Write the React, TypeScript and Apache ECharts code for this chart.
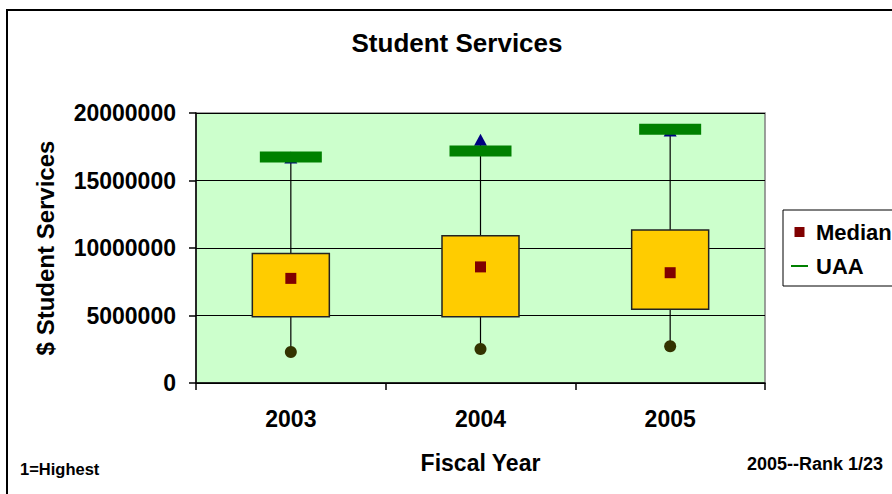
import React, { useEffect, useRef } from "react";
import * as echarts from "echarts";

const years = ["2003", "2004", "2005"];
const q1Values = [4910000, 4910000, 5460000];
const q3Values = [9600000, 10900000, 11330000];
const medianValues = [7750000, 8600000, 8170000];
const minValues = [2300000, 2520000, 2720000];
const maxValues = [16700000, 18020000, 18700000];
const uaaValues = [16740000, 17190000, 18790000];
const yTicks = { min: 0, max: 20000000, interval: 5000000 };

const FONT = "'Liberation Sans', Arial, sans-serif";

export default function App() {
  const ref = useRef<HTMLDivElement>(null);
  useEffect(() => {
    if (!ref.current) return;
    const chart = echarts.init(ref.current, null, { renderer: "svg" });
    const boxData = years.map((_, i) => [i, q1Values[i], q3Values[i], minValues[i], maxValues[i]]);
    chart.setOption({
      animation: false,
      textStyle: { fontFamily: FONT },
      grid: {
        left: 196,
        top: 113,
        width: 569,
        height: 270,
        show: true,
        backgroundColor: "#CCFFCC",
        borderColor: "#808080",
        borderWidth: 1.5,
      },
      legend: {
        data: [
          { name: "Median", icon: "path://M0,0h10v10h-10z" },
          { name: "UAA", icon: "path://M0,0h17v2h-17z" },
        ],
        orient: "vertical",
        left: 783,
        top: 210,
        itemWidth: 17,
        itemHeight: 10,
        itemGap: 12,
        padding: [11, 30, 9, 8],
        borderColor: "#000",
        borderWidth: 1,
        backgroundColor: "#fff",
        textStyle: { fontFamily: FONT, fontWeight: "bold", fontSize: 22, color: "#000", padding: [0, 0, 0, 3] },
      },
      graphic: [
        {
          type: "rect",
          shape: { x: 7, y: 10, width: 900, height: 500 },
          style: { fill: "none", stroke: "#000", lineWidth: 2 },
          silent: true,
          z: -10,
        },
        {
          type: "text",
          x: 457,
          y: 43,
          style: {
            text: "Student Services",
            font: `bold 26px ${FONT}`,
            fill: "#000",
            align: "center",
            verticalAlign: "middle",
          },
        },
        {
          type: "text",
          x: 20,
          y: 469,
          style: {
            text: "1=Highest",
            font: `bold 16.5px ${FONT}`,
            fill: "#000",
            align: "left",
            verticalAlign: "middle",
          },
        },
        {
          type: "text",
          x: 883,
          y: 464,
          style: {
            text: "2005--Rank 1/23",
            font: `bold 18px ${FONT}`,
            fill: "#000",
            align: "right",
            verticalAlign: "middle",
          },
        },
      ],
      xAxis: {
        type: "category",
        data: years,
        boundaryGap: true,
        name: "Fiscal Year",
        nameLocation: "middle",
        nameGap: 68,
        nameTextStyle: { fontFamily: FONT, fontWeight: "bold", fontSize: 23, color: "#000" },
        axisLine: { lineStyle: { color: "#000", width: 1.5 } },
        axisTick: { show: true, length: 7, lineStyle: { color: "#000", width: 1.5 } },
        axisLabel: { fontFamily: FONT, fontWeight: "bold", fontSize: 23, color: "#000", margin: 24 },
        splitLine: { show: false },
      },
      yAxis: {
        type: "value",
        min: yTicks.min,
        max: yTicks.max,
        interval: yTicks.interval,
        name: "$ Student Services",
        nameLocation: "middle",
        nameGap: 139,
        nameTextStyle: { fontFamily: FONT, fontWeight: "bold", fontSize: 24, color: "#000" },
        axisLine: { show: true, lineStyle: { color: "#000", width: 1.5 } },
        axisTick: { show: true, length: 7, lineStyle: { color: "#000", width: 1.5 } },
        axisLabel: {
          fontFamily: FONT,
          fontWeight: "bold",
          fontSize: 23,
          color: "#000",
          margin: 20,
          formatter: (v: number) => String(v),
        },
        splitLine: { show: true, lineStyle: { color: "#000", width: 1 } },
      },
      series: [
        {
          name: "Box",
          type: "custom",
          z: 2,
          data: boxData,
          encode: { x: 0, y: [1, 2, 3, 4] },
          renderItem: (params: any, api: any) => {
            const idx = api.value(0);
            const pQ1 = api.coord([idx, api.value(1)]);
            const pQ3 = api.coord([idx, api.value(2)]);
            const pMin = api.coord([idx, api.value(3)]);
            const pMax = api.coord([idx, api.value(4)]);
            const w = 77;
            return {
              type: "group",
              children: [
                {
                  type: "line",
                  shape: { x1: pMin[0], y1: pMin[1], x2: pMax[0], y2: pMax[1] },
                  style: { stroke: "#000", lineWidth: 1.2 },
                },
                {
                  type: "rect",
                  shape: { x: pQ3[0] - w / 2, y: pQ3[1], width: w, height: pQ1[1] - pQ3[1] },
                  style: { fill: "#FFCC00", stroke: "#222", lineWidth: 1.5 },
                },
              ],
            };
          },
        },
        {
          name: "Max",
          type: "scatter",
          z: 3,
          symbol: "triangle",
          symbolSize: [13, 12],
          itemStyle: { color: "#000080", opacity: 1 },
          data: maxValues,
        },
        {
          name: "UAA",
          type: "scatter",
          z: 4,
          symbol: "rect",
          symbolSize: [62, 11],
          itemStyle: { color: "#008000", opacity: 1 },
          data: uaaValues,
        },
        {
          name: "Median",
          type: "scatter",
          z: 5,
          symbol: "rect",
          symbolSize: 11,
          itemStyle: { color: "#800000", opacity: 1 },
          data: medianValues,
        },
        {
          name: "Min",
          type: "scatter",
          z: 5,
          symbol: "circle",
          symbolSize: 12,
          itemStyle: { color: "#333300", opacity: 1 },
          data: minValues,
        },
      ],
    });
    return () => chart.dispose();
  }, []);
  return (
    <div
      ref={ref}
      style={{ position: "absolute", left: 0, top: 0, width: 892, height: 494 }}
    />
  );
}
